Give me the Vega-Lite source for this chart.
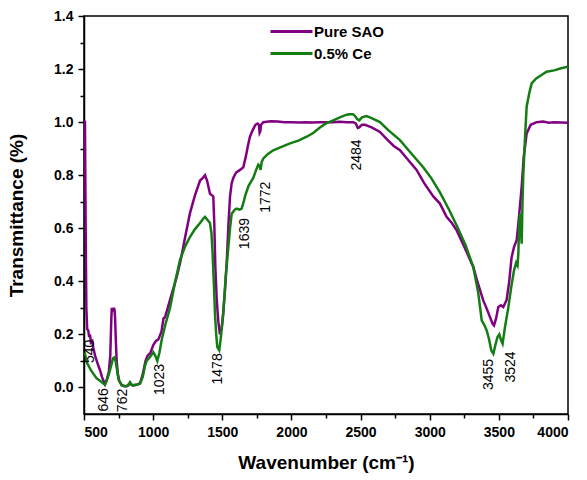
{
  "$schema": "https://vega.github.io/schema/vega-lite/v6.json",
  "autosize": {"type": "none"},
  "width": 484,
  "height": 398,
  "padding": {"left": 84, "top": 16, "right": 19, "bottom": 66},
  "background": "white",
  "config": {
    "font": "Liberation Sans",
    "view": {"stroke": "black", "strokeWidth": 1.5},
    "axis": {"grid": false, "domainColor": "black", "domainWidth": 1.5, "tickColor": "black", "tickWidth": 1.5, "labelColor": "black", "titleColor": "black", "labelFont": "Liberation Sans", "titleFont": "Liberation Sans"}
  },
  "datasets": {
    "spectra": [
      {"series": "Pure SAO", "wn": 503, "t": 1.0},
      {"series": "Pure SAO", "wn": 507, "t": 1.005},
      {"series": "Pure SAO", "wn": 512, "t": 0.6},
      {"series": "Pure SAO", "wn": 517, "t": 0.3},
      {"series": "Pure SAO", "wn": 523, "t": 0.22},
      {"series": "Pure SAO", "wn": 531, "t": 0.215},
      {"series": "Pure SAO", "wn": 537, "t": 0.19},
      {"series": "Pure SAO", "wn": 543, "t": 0.2},
      {"series": "Pure SAO", "wn": 550, "t": 0.17},
      {"series": "Pure SAO", "wn": 560, "t": 0.175},
      {"series": "Pure SAO", "wn": 567, "t": 0.15},
      {"series": "Pure SAO", "wn": 580, "t": 0.12},
      {"series": "Pure SAO", "wn": 592, "t": 0.1},
      {"series": "Pure SAO", "wn": 605, "t": 0.08},
      {"series": "Pure SAO", "wn": 616, "t": 0.065},
      {"series": "Pure SAO", "wn": 630, "t": 0.04},
      {"series": "Pure SAO", "wn": 640, "t": 0.026},
      {"series": "Pure SAO", "wn": 652, "t": 0.012},
      {"series": "Pure SAO", "wn": 665, "t": 0.03},
      {"series": "Pure SAO", "wn": 680, "t": 0.06},
      {"series": "Pure SAO", "wn": 690, "t": 0.12},
      {"series": "Pure SAO", "wn": 697, "t": 0.25},
      {"series": "Pure SAO", "wn": 701, "t": 0.3},
      {"series": "Pure SAO", "wn": 708, "t": 0.29},
      {"series": "Pure SAO", "wn": 712, "t": 0.29},
      {"series": "Pure SAO", "wn": 717, "t": 0.3},
      {"series": "Pure SAO", "wn": 721, "t": 0.29},
      {"series": "Pure SAO", "wn": 725, "t": 0.26},
      {"series": "Pure SAO", "wn": 730, "t": 0.18},
      {"series": "Pure SAO", "wn": 736, "t": 0.1},
      {"series": "Pure SAO", "wn": 745, "t": 0.05},
      {"series": "Pure SAO", "wn": 755, "t": 0.025},
      {"series": "Pure SAO", "wn": 772, "t": 0.01},
      {"series": "Pure SAO", "wn": 790, "t": 0.005},
      {"series": "Pure SAO", "wn": 810, "t": 0.005},
      {"series": "Pure SAO", "wn": 830, "t": 0.015},
      {"series": "Pure SAO", "wn": 850, "t": 0.008},
      {"series": "Pure SAO", "wn": 880, "t": 0.01},
      {"series": "Pure SAO", "wn": 905, "t": 0.015},
      {"series": "Pure SAO", "wn": 925, "t": 0.05},
      {"series": "Pure SAO", "wn": 945, "t": 0.1},
      {"series": "Pure SAO", "wn": 960, "t": 0.12},
      {"series": "Pure SAO", "wn": 980, "t": 0.13},
      {"series": "Pure SAO", "wn": 1001, "t": 0.16},
      {"series": "Pure SAO", "wn": 1020, "t": 0.175},
      {"series": "Pure SAO", "wn": 1037, "t": 0.18},
      {"series": "Pure SAO", "wn": 1060, "t": 0.21},
      {"series": "Pure SAO", "wn": 1075, "t": 0.26},
      {"series": "Pure SAO", "wn": 1086, "t": 0.265},
      {"series": "Pure SAO", "wn": 1100, "t": 0.29},
      {"series": "Pure SAO", "wn": 1122, "t": 0.33},
      {"series": "Pure SAO", "wn": 1150, "t": 0.38},
      {"series": "Pure SAO", "wn": 1170, "t": 0.416},
      {"series": "Pure SAO", "wn": 1195, "t": 0.47},
      {"series": "Pure SAO", "wn": 1218, "t": 0.53},
      {"series": "Pure SAO", "wn": 1240, "t": 0.59},
      {"series": "Pure SAO", "wn": 1266, "t": 0.656},
      {"series": "Pure SAO", "wn": 1300, "t": 0.72},
      {"series": "Pure SAO", "wn": 1339, "t": 0.78},
      {"series": "Pure SAO", "wn": 1360, "t": 0.79},
      {"series": "Pure SAO", "wn": 1375, "t": 0.8},
      {"series": "Pure SAO", "wn": 1390, "t": 0.78},
      {"series": "Pure SAO", "wn": 1411, "t": 0.73},
      {"series": "Pure SAO", "wn": 1425, "t": 0.725},
      {"series": "Pure SAO", "wn": 1435, "t": 0.72},
      {"series": "Pure SAO", "wn": 1442, "t": 0.62},
      {"series": "Pure SAO", "wn": 1450, "t": 0.45},
      {"series": "Pure SAO", "wn": 1460, "t": 0.33},
      {"series": "Pure SAO", "wn": 1471, "t": 0.25},
      {"series": "Pure SAO", "wn": 1483, "t": 0.2},
      {"series": "Pure SAO", "wn": 1495, "t": 0.22},
      {"series": "Pure SAO", "wn": 1507, "t": 0.28},
      {"series": "Pure SAO", "wn": 1520, "t": 0.37},
      {"series": "Pure SAO", "wn": 1532, "t": 0.47},
      {"series": "Pure SAO", "wn": 1545, "t": 0.62},
      {"series": "Pure SAO", "wn": 1556, "t": 0.72},
      {"series": "Pure SAO", "wn": 1568, "t": 0.77},
      {"series": "Pure SAO", "wn": 1580, "t": 0.79},
      {"series": "Pure SAO", "wn": 1600, "t": 0.81},
      {"series": "Pure SAO", "wn": 1628, "t": 0.82},
      {"series": "Pure SAO", "wn": 1652, "t": 0.83},
      {"series": "Pure SAO", "wn": 1670, "t": 0.87},
      {"series": "Pure SAO", "wn": 1685, "t": 0.91},
      {"series": "Pure SAO", "wn": 1700, "t": 0.945},
      {"series": "Pure SAO", "wn": 1720, "t": 0.97},
      {"series": "Pure SAO", "wn": 1740, "t": 0.99},
      {"series": "Pure SAO", "wn": 1755, "t": 0.995},
      {"series": "Pure SAO", "wn": 1765, "t": 0.99},
      {"series": "Pure SAO", "wn": 1770, "t": 0.96},
      {"series": "Pure SAO", "wn": 1775, "t": 0.965},
      {"series": "Pure SAO", "wn": 1780, "t": 0.99},
      {"series": "Pure SAO", "wn": 1797, "t": 1.0},
      {"series": "Pure SAO", "wn": 1850, "t": 1.003},
      {"series": "Pure SAO", "wn": 1900, "t": 1.002},
      {"series": "Pure SAO", "wn": 1950, "t": 1.0},
      {"series": "Pure SAO", "wn": 2000, "t": 1.0},
      {"series": "Pure SAO", "wn": 2062, "t": 0.999},
      {"series": "Pure SAO", "wn": 2100, "t": 1.0},
      {"series": "Pure SAO", "wn": 2150, "t": 0.999},
      {"series": "Pure SAO", "wn": 2200, "t": 1.0},
      {"series": "Pure SAO", "wn": 2250, "t": 1.0},
      {"series": "Pure SAO", "wn": 2300, "t": 1.0},
      {"series": "Pure SAO", "wn": 2350, "t": 1.001},
      {"series": "Pure SAO", "wn": 2400, "t": 1.0},
      {"series": "Pure SAO", "wn": 2447, "t": 1.0},
      {"series": "Pure SAO", "wn": 2465, "t": 0.995},
      {"series": "Pure SAO", "wn": 2480, "t": 0.978},
      {"series": "Pure SAO", "wn": 2490, "t": 0.98},
      {"series": "Pure SAO", "wn": 2510, "t": 0.99},
      {"series": "Pure SAO", "wn": 2532, "t": 0.99},
      {"series": "Pure SAO", "wn": 2580, "t": 0.98},
      {"series": "Pure SAO", "wn": 2640, "t": 0.963},
      {"series": "Pure SAO", "wn": 2700, "t": 0.93},
      {"series": "Pure SAO", "wn": 2740, "t": 0.91},
      {"series": "Pure SAO", "wn": 2785, "t": 0.894},
      {"series": "Pure SAO", "wn": 2840, "t": 0.86},
      {"series": "Pure SAO", "wn": 2905, "t": 0.82},
      {"series": "Pure SAO", "wn": 2960, "t": 0.77},
      {"series": "Pure SAO", "wn": 3026, "t": 0.72},
      {"series": "Pure SAO", "wn": 3074, "t": 0.693},
      {"series": "Pure SAO", "wn": 3122, "t": 0.643},
      {"series": "Pure SAO", "wn": 3160, "t": 0.62},
      {"series": "Pure SAO", "wn": 3195, "t": 0.592},
      {"series": "Pure SAO", "wn": 3250, "t": 0.53},
      {"series": "Pure SAO", "wn": 3315, "t": 0.454},
      {"series": "Pure SAO", "wn": 3350, "t": 0.39},
      {"series": "Pure SAO", "wn": 3387, "t": 0.328},
      {"series": "Pure SAO", "wn": 3410, "t": 0.3},
      {"series": "Pure SAO", "wn": 3436, "t": 0.265},
      {"series": "Pure SAO", "wn": 3455, "t": 0.24},
      {"series": "Pure SAO", "wn": 3465, "t": 0.234},
      {"series": "Pure SAO", "wn": 3480, "t": 0.26},
      {"series": "Pure SAO", "wn": 3496, "t": 0.303},
      {"series": "Pure SAO", "wn": 3515, "t": 0.31},
      {"series": "Pure SAO", "wn": 3532, "t": 0.303},
      {"series": "Pure SAO", "wn": 3556, "t": 0.33},
      {"series": "Pure SAO", "wn": 3575, "t": 0.4},
      {"series": "Pure SAO", "wn": 3592, "t": 0.49},
      {"series": "Pure SAO", "wn": 3610, "t": 0.53},
      {"series": "Pure SAO", "wn": 3629, "t": 0.555},
      {"series": "Pure SAO", "wn": 3645, "t": 0.64},
      {"series": "Pure SAO", "wn": 3665, "t": 0.756},
      {"series": "Pure SAO", "wn": 3680, "t": 0.87},
      {"series": "Pure SAO", "wn": 3701, "t": 0.957},
      {"series": "Pure SAO", "wn": 3730, "t": 0.99},
      {"series": "Pure SAO", "wn": 3773, "t": 1.0},
      {"series": "Pure SAO", "wn": 3820, "t": 1.002},
      {"series": "Pure SAO", "wn": 3860, "t": 0.998},
      {"series": "Pure SAO", "wn": 3900, "t": 1.0},
      {"series": "Pure SAO", "wn": 3950, "t": 0.999},
      {"series": "Pure SAO", "wn": 4000, "t": 0.998},
      {"series": "0.5% Ce", "wn": 503, "t": 0.13},
      {"series": "0.5% Ce", "wn": 507, "t": 0.128},
      {"series": "0.5% Ce", "wn": 519, "t": 0.095},
      {"series": "0.5% Ce", "wn": 535, "t": 0.08},
      {"series": "0.5% Ce", "wn": 550, "t": 0.065},
      {"series": "0.5% Ce", "wn": 567, "t": 0.052},
      {"series": "0.5% Ce", "wn": 590, "t": 0.035},
      {"series": "0.5% Ce", "wn": 615, "t": 0.025},
      {"series": "0.5% Ce", "wn": 640, "t": 0.015},
      {"series": "0.5% Ce", "wn": 652, "t": 0.01},
      {"series": "0.5% Ce", "wn": 664, "t": 0.026},
      {"series": "0.5% Ce", "wn": 680, "t": 0.05},
      {"series": "0.5% Ce", "wn": 700, "t": 0.09},
      {"series": "0.5% Ce", "wn": 710, "t": 0.11},
      {"series": "0.5% Ce", "wn": 719, "t": 0.113},
      {"series": "0.5% Ce", "wn": 728, "t": 0.1},
      {"series": "0.5% Ce", "wn": 736, "t": 0.076},
      {"series": "0.5% Ce", "wn": 750, "t": 0.03},
      {"series": "0.5% Ce", "wn": 772, "t": 0.008},
      {"series": "0.5% Ce", "wn": 800, "t": 0.005},
      {"series": "0.5% Ce", "wn": 820, "t": 0.008},
      {"series": "0.5% Ce", "wn": 833, "t": 0.02},
      {"series": "0.5% Ce", "wn": 845, "t": 0.01},
      {"series": "0.5% Ce", "wn": 857, "t": 0.008},
      {"series": "0.5% Ce", "wn": 880, "t": 0.01},
      {"series": "0.5% Ce", "wn": 905, "t": 0.015},
      {"series": "0.5% Ce", "wn": 925, "t": 0.04},
      {"series": "0.5% Ce", "wn": 940, "t": 0.08},
      {"series": "0.5% Ce", "wn": 953, "t": 0.1},
      {"series": "0.5% Ce", "wn": 970, "t": 0.11},
      {"series": "0.5% Ce", "wn": 985, "t": 0.12},
      {"series": "0.5% Ce", "wn": 1001, "t": 0.133},
      {"series": "0.5% Ce", "wn": 1015, "t": 0.12},
      {"series": "0.5% Ce", "wn": 1030, "t": 0.1},
      {"series": "0.5% Ce", "wn": 1045, "t": 0.13},
      {"series": "0.5% Ce", "wn": 1062, "t": 0.18},
      {"series": "0.5% Ce", "wn": 1090, "t": 0.24},
      {"series": "0.5% Ce", "wn": 1122, "t": 0.3},
      {"series": "0.5% Ce", "wn": 1160, "t": 0.4},
      {"series": "0.5% Ce", "wn": 1194, "t": 0.48},
      {"series": "0.5% Ce", "wn": 1230, "t": 0.53},
      {"series": "0.5% Ce", "wn": 1266, "t": 0.567},
      {"series": "0.5% Ce", "wn": 1300, "t": 0.595},
      {"series": "0.5% Ce", "wn": 1339, "t": 0.62},
      {"series": "0.5% Ce", "wn": 1360, "t": 0.635},
      {"series": "0.5% Ce", "wn": 1375, "t": 0.643},
      {"series": "0.5% Ce", "wn": 1395, "t": 0.63},
      {"series": "0.5% Ce", "wn": 1411, "t": 0.62},
      {"series": "0.5% Ce", "wn": 1422, "t": 0.58},
      {"series": "0.5% Ce", "wn": 1430, "t": 0.505},
      {"series": "0.5% Ce", "wn": 1440, "t": 0.38},
      {"series": "0.5% Ce", "wn": 1447, "t": 0.28},
      {"series": "0.5% Ce", "wn": 1456, "t": 0.2},
      {"series": "0.5% Ce", "wn": 1464, "t": 0.152},
      {"series": "0.5% Ce", "wn": 1478, "t": 0.14},
      {"series": "0.5% Ce", "wn": 1490, "t": 0.19},
      {"series": "0.5% Ce", "wn": 1507, "t": 0.28},
      {"series": "0.5% Ce", "wn": 1525, "t": 0.42},
      {"series": "0.5% Ce", "wn": 1544, "t": 0.53},
      {"series": "0.5% Ce", "wn": 1556, "t": 0.6},
      {"series": "0.5% Ce", "wn": 1568, "t": 0.655},
      {"series": "0.5% Ce", "wn": 1590, "t": 0.67},
      {"series": "0.5% Ce", "wn": 1604, "t": 0.674},
      {"series": "0.5% Ce", "wn": 1625, "t": 0.67},
      {"series": "0.5% Ce", "wn": 1640, "t": 0.674},
      {"series": "0.5% Ce", "wn": 1655, "t": 0.7},
      {"series": "0.5% Ce", "wn": 1664, "t": 0.72},
      {"series": "0.5% Ce", "wn": 1690, "t": 0.76},
      {"series": "0.5% Ce", "wn": 1724, "t": 0.79},
      {"series": "0.5% Ce", "wn": 1745, "t": 0.82},
      {"series": "0.5% Ce", "wn": 1760, "t": 0.84},
      {"series": "0.5% Ce", "wn": 1770, "t": 0.835},
      {"series": "0.5% Ce", "wn": 1777, "t": 0.82},
      {"series": "0.5% Ce", "wn": 1785, "t": 0.85},
      {"series": "0.5% Ce", "wn": 1797, "t": 0.863},
      {"series": "0.5% Ce", "wn": 1830, "t": 0.88},
      {"series": "0.5% Ce", "wn": 1869, "t": 0.894},
      {"series": "0.5% Ce", "wn": 1920, "t": 0.905},
      {"series": "0.5% Ce", "wn": 1990, "t": 0.92},
      {"series": "0.5% Ce", "wn": 2050, "t": 0.93},
      {"series": "0.5% Ce", "wn": 2110, "t": 0.945},
      {"series": "0.5% Ce", "wn": 2160, "t": 0.96},
      {"series": "0.5% Ce", "wn": 2206, "t": 0.98},
      {"series": "0.5% Ce", "wn": 2250, "t": 0.995},
      {"series": "0.5% Ce", "wn": 2303, "t": 1.007},
      {"series": "0.5% Ce", "wn": 2350, "t": 1.018},
      {"series": "0.5% Ce", "wn": 2400, "t": 1.028},
      {"series": "0.5% Ce", "wn": 2423, "t": 1.03},
      {"series": "0.5% Ce", "wn": 2445, "t": 1.03},
      {"series": "0.5% Ce", "wn": 2460, "t": 1.023},
      {"series": "0.5% Ce", "wn": 2475, "t": 1.012},
      {"series": "0.5% Ce", "wn": 2491, "t": 1.007},
      {"series": "0.5% Ce", "wn": 2510, "t": 1.018},
      {"series": "0.5% Ce", "wn": 2544, "t": 1.023},
      {"series": "0.5% Ce", "wn": 2580, "t": 1.015},
      {"series": "0.5% Ce", "wn": 2640, "t": 1.0},
      {"series": "0.5% Ce", "wn": 2700, "t": 0.97},
      {"series": "0.5% Ce", "wn": 2785, "t": 0.932},
      {"series": "0.5% Ce", "wn": 2870, "t": 0.88},
      {"series": "0.5% Ce", "wn": 2953, "t": 0.83},
      {"series": "0.5% Ce", "wn": 3010, "t": 0.79},
      {"series": "0.5% Ce", "wn": 3074, "t": 0.735},
      {"series": "0.5% Ce", "wn": 3140, "t": 0.67},
      {"series": "0.5% Ce", "wn": 3200, "t": 0.605},
      {"series": "0.5% Ce", "wn": 3260, "t": 0.535},
      {"series": "0.5% Ce", "wn": 3315, "t": 0.454},
      {"series": "0.5% Ce", "wn": 3350, "t": 0.36},
      {"series": "0.5% Ce", "wn": 3376, "t": 0.253},
      {"series": "0.5% Ce", "wn": 3395, "t": 0.235},
      {"series": "0.5% Ce", "wn": 3412, "t": 0.215},
      {"series": "0.5% Ce", "wn": 3430, "t": 0.18},
      {"series": "0.5% Ce", "wn": 3445, "t": 0.14},
      {"series": "0.5% Ce", "wn": 3460, "t": 0.127},
      {"series": "0.5% Ce", "wn": 3475, "t": 0.16},
      {"series": "0.5% Ce", "wn": 3490, "t": 0.19},
      {"series": "0.5% Ce", "wn": 3503, "t": 0.2},
      {"series": "0.5% Ce", "wn": 3515, "t": 0.18},
      {"series": "0.5% Ce", "wn": 3527, "t": 0.165},
      {"series": "0.5% Ce", "wn": 3545, "t": 0.23},
      {"series": "0.5% Ce", "wn": 3568, "t": 0.3},
      {"series": "0.5% Ce", "wn": 3590, "t": 0.38},
      {"series": "0.5% Ce", "wn": 3609, "t": 0.44},
      {"series": "0.5% Ce", "wn": 3625, "t": 0.47},
      {"series": "0.5% Ce", "wn": 3635, "t": 0.46},
      {"series": "0.5% Ce", "wn": 3641, "t": 0.505},
      {"series": "0.5% Ce", "wn": 3647, "t": 0.62},
      {"series": "0.5% Ce", "wn": 3653, "t": 0.655},
      {"series": "0.5% Ce", "wn": 3659, "t": 0.6},
      {"series": "0.5% Ce", "wn": 3665, "t": 0.542},
      {"series": "0.5% Ce", "wn": 3671, "t": 0.7},
      {"series": "0.5% Ce", "wn": 3677, "t": 0.806},
      {"series": "0.5% Ce", "wn": 3690, "t": 0.95},
      {"series": "0.5% Ce", "wn": 3701, "t": 1.058},
      {"series": "0.5% Ce", "wn": 3720, "t": 1.11},
      {"series": "0.5% Ce", "wn": 3737, "t": 1.146},
      {"series": "0.5% Ce", "wn": 3770, "t": 1.165},
      {"series": "0.5% Ce", "wn": 3800, "t": 1.175},
      {"series": "0.5% Ce", "wn": 3845, "t": 1.19},
      {"series": "0.5% Ce", "wn": 3900, "t": 1.195},
      {"series": "0.5% Ce", "wn": 3950, "t": 1.203},
      {"series": "0.5% Ce", "wn": 4000, "t": 1.209}
    ],
    "labels": [
      {"label": "540", "wn": 543, "t": 0.136},
      {"label": "646", "wn": 645, "t": -0.047},
      {"label": "762", "wn": 784, "t": -0.049},
      {"label": "1023", "wn": 1050, "t": 0.03},
      {"label": "1478", "wn": 1471, "t": 0.07},
      {"label": "1639", "wn": 1664, "t": 0.58},
      {"label": "1772", "wn": 1816, "t": 0.717},
      {"label": "2484", "wn": 2472, "t": 0.876},
      {"label": "3455", "wn": 3431, "t": 0.049},
      {"label": "3524", "wn": 3588, "t": 0.077}
    ]
  },
  "layer": [
    {
      "data": {"name": "spectra"},
      "mark": {"type": "line", "strokeWidth": 2.5, "clip": true},
      "encoding": {
        "x": {"field": "wn", "type": "quantitative", "scale": {"domain": [500, 4000], "nice": false, "zero": false},
          "axis": {"title": "Wavenumber (cm⁻¹)", "values": [500, 1000, 1500, 2000, 2500, 3000, 3500, 4000], "format": "d", "labelFontSize": 14, "labelFontWeight": "bold", "labelPadding": 5, "tickSize": 6, "titleFontSize": 19, "titleFontWeight": "bold", "titlePadding": 14, "orient": "bottom"}},
        "y": {"field": "t", "type": "quantitative", "scale": {"domain": [-0.1, 1.4], "nice": false, "zero": false},
          "axis": {"title": "Transmittance (%)", "values": [0, 0.2, 0.4, 0.6, 0.8, 1.0, 1.2, 1.4], "format": ".1f", "labelFontSize": 14, "labelFontWeight": "bold", "labelPadding": 5, "tickSize": 6, "titleFontSize": 19, "titleFontWeight": "bold", "titlePadding": 27, "orient": "left"}},
        "color": {"field": "series", "type": "nominal", "sort": ["Pure SAO", "0.5% Ce"],
          "scale": {"domain": ["Pure SAO", "0.5% Ce"], "range": ["#800080", "#137d13"]},
          "legend": {"title": null, "orient": "none", "legendX": 196, "legendY": 4, "symbolType": "M-2.1,0H2.1", "symbolSize": 400, "symbolStrokeWidth": 3, "symbolFillColor": "transparent", "labelFontSize": 15, "labelFontWeight": "bold", "labelColor": "black", "labelOffset": 11, "rowPadding": 2}},
        "detail": {"field": "series"}
      }
    },
    {
      "data": {"name": "labels"},
      "mark": {"type": "text", "angle": 270, "align": "center", "baseline": "middle", "fontSize": 14, "color": "black", "font": "Liberation Sans"},
      "encoding": {
        "x": {"field": "wn", "type": "quantitative", "scale": {"domain": [500, 4000], "nice": false, "zero": false},
          "axis": {"title": null, "values": [750, 1250, 1750, 2250, 2750, 3250, 3750], "labels": false, "domain": false, "tickSize": 4, "orient": "bottom"}},
        "y": {"field": "t", "type": "quantitative", "scale": {"domain": [-0.1, 1.4], "nice": false, "zero": false},
          "axis": {"title": null, "values": [0.1, 0.3, 0.5, 0.7, 0.9, 1.1, 1.3], "labels": false, "domain": false, "tickSize": 4, "orient": "left"}},
        "text": {"field": "label"}
      }
    }
  ],
  "resolve": {"axis": {"x": "independent", "y": "independent"}}
}
